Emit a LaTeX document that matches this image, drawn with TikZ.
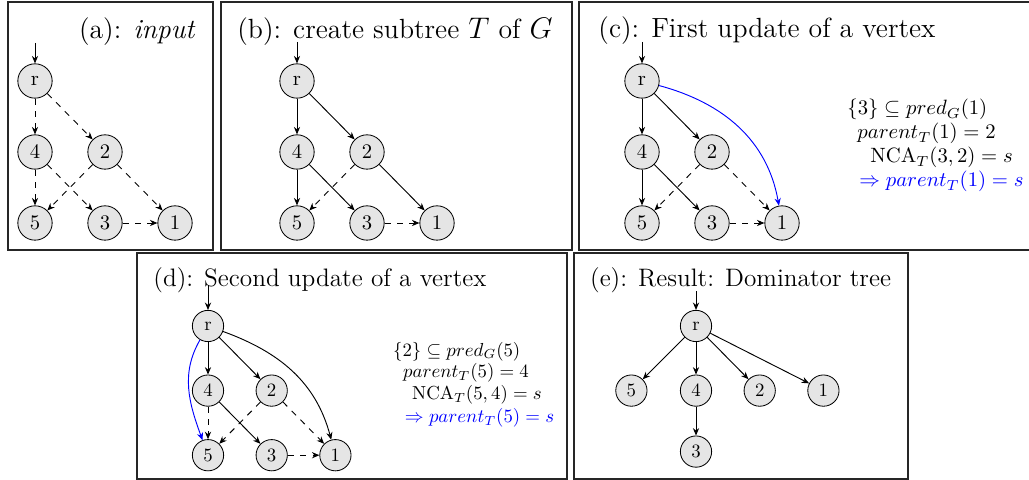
\documentclass[tikz,border=0pt]{standalone}
\usepackage{amsmath}
\usetikzlibrary{arrows.meta}

\begin{document}
\begin{tikzpicture}[
  x=0.483pt,y=0.483pt,
  >={Stealth[length=3.6pt,width=3pt]},
  vertex/.style={circle,draw=black,fill=black!10,minimum size=16.6pt,inner sep=0pt},
  tree/.style={->,draw=black,line width=0.45pt},
  nontree/.style={->,draw=black,dashed,line width=0.45pt},
  update/.style={->,draw=blue,line width=0.45pt},
  panel/.style={draw=black!85,line width=0.55pt},
  title/.style={font=\fontsize{13.4}{16}\selectfont,inner sep=0pt},
  mathlab/.style={anchor=base west,inner sep=0pt}
]
\useasboundingbox (0,0) rectangle (1029,480);

% ---------------- panel frames ----------------
\draw[panel] (8,478) rectangle (213,230);
\draw[panel] (221,478) rectangle (572,230);
\draw[panel] (579,478) rectangle (1040,230);
\draw[panel] (137,227) rectangle (567,1);
\draw[panel] (574,227) rectangle (908,1);

% ---------------- (a) input ----------------
\begin{scope}[shift={(35,399)}]
\node[title,anchor=east] (a-title) at (161,49) {(a): \textit{input}};
\node[vertex] (a-r) at (0,0) {r};
\node[vertex] (a-4) at (0,-71) {4};
\node[vertex] (a-2) at (70,-71) {2};
\node[vertex] (a-5) at (0,-142) {5};
\node[vertex] (a-3) at (70,-142) {3};
\node[vertex] (a-1) at (140,-142) {1};
\coordinate (a-in) at (0,38);
\draw[tree] (a-in) -- (a-r);
\draw[nontree] (a-r) -- (a-4);
\draw[nontree] (a-r) -- (a-2);
\draw[nontree] (a-4) -- (a-5);
\draw[nontree] (a-4) -- (a-3);
\draw[nontree] (a-2) -- (a-5);
\draw[nontree] (a-2) -- (a-1);
\draw[nontree] (a-3) -- (a-1);
\end{scope}

% ---------------- (b) subtree T ----------------
\begin{scope}[shift={(297,399)}]
\node[title] (b-title) at (98,49) {(b): create subtree $T$ of $G$};
\node[vertex] (b-r) at (0,0) {r};
\node[vertex] (b-4) at (0,-71) {4};
\node[vertex] (b-2) at (70,-71) {2};
\node[vertex] (b-5) at (0,-142) {5};
\node[vertex] (b-3) at (70,-142) {3};
\node[vertex] (b-1) at (140,-142) {1};
\coordinate (b-in) at (0,39);
\draw[tree] (b-in) -- (b-r);
\draw[tree] (b-r) -- (b-4);
\draw[tree] (b-r) -- (b-2);
\draw[tree] (b-4) -- (b-5);
\draw[tree] (b-4) -- (b-3);
\draw[tree] (b-2) -- (b-1);
\draw[nontree] (b-2) -- (b-5);
\draw[nontree] (b-3) -- (b-1);
\end{scope}

% ---------------- (c) first update ----------------
\begin{scope}[shift={(642,399)}]
\node[title] (c-title) at (125,50) {(c): First update of a vertex};
\node[vertex] (c-r) at (0,0) {r};
\node[vertex] (c-4) at (0,-71) {4};
\node[vertex] (c-2) at (70,-71) {2};
\node[vertex] (c-5) at (0,-142) {5};
\node[vertex] (c-3) at (70,-142) {3};
\node[vertex] (c-1) at (140,-142) {1};
\coordinate (c-in) at (0,39);
\draw[tree] (c-in) -- (c-r);
\draw[tree] (c-r) -- (c-4);
\draw[tree] (c-r) -- (c-2);
\draw[tree] (c-4) -- (c-5);
\draw[tree] (c-4) -- (c-3);
\draw[nontree] (c-2) -- (c-5);
\draw[nontree] (c-2) -- (c-1);
\draw[nontree] (c-3) -- (c-1);
\draw[update] (c-r) to[out=-15,in=100] (c-1);

\node[mathlab] (c-l1) at (205,-34) {$\{3\} \subseteq pred_G(1)$};
\node[mathlab] (c-l2) at (215,-58) {$parent_T(1) = 2$};
\node[mathlab] (c-l3) at (228,-82) {$\mathrm{NCA}_T(3,2) = s$};
\node[mathlab,text=blue] (c-l4) at (217,-106) {$\Rightarrow parent_T(1) = s$};
\end{scope}

% ---------------- (d) second update ----------------
\begin{scope}[shift={(208,154)},scale=0.91,transform shape]
\node[title] (d-title) at (123,50) {(d): Second update of a vertex};
\node[vertex] (d-r) at (0,0) {r};
\node[vertex] (d-4) at (0,-71) {4};
\node[vertex] (d-2) at (70,-71) {2};
\node[vertex] (d-5) at (0,-142) {5};
\node[vertex] (d-3) at (70,-142) {3};
\node[vertex] (d-1) at (140,-142) {1};
\coordinate (d-in) at (0,45);
\draw[tree] (d-in) -- (d-r);
\draw[tree] (d-r) -- (d-4);
\draw[tree] (d-r) -- (d-2);
\draw[tree] (d-4) -- (d-3);
\draw[tree] (d-r) to[out=-20,in=105] (d-1);
\draw[nontree] (d-4) -- (d-5);
\draw[nontree] (d-2) -- (d-5);
\draw[nontree] (d-2) -- (d-1);
\draw[nontree] (d-3) -- (d-1);
\draw[update] (d-r) to[out=240,in=110] (d-5);

\node[mathlab] (d-l1) at (203,-33) {$\{2\} \subseteq pred_G(5)$};
\node[mathlab] (d-l2) at (214,-57) {$parent_T(5) = 4$};
\node[mathlab] (d-l3) at (224,-81) {$\mathrm{NCA}_T(5,4) = s$};
\node[mathlab,text=blue] (d-l4) at (216,-106) {$\Rightarrow parent_T(5) = s$};
\end{scope}

% ---------------- (e) dominator tree ----------------
\begin{scope}[shift={(696,154)},scale=0.91,transform shape]
\node[title] (e-title) at (49,50) {(e): Result: Dominator tree};
\node[vertex] (e-r) at (0,0) {r};
\node[vertex] (e-5) at (-71,-71) {5};
\node[vertex] (e-4) at (0,-71) {4};
\node[vertex] (e-2) at (70,-71) {2};
\node[vertex] (e-1) at (140,-71) {1};
\node[vertex] (e-3) at (0,-138) {3};
\coordinate (e-in) at (0,38);
\draw[tree] (e-in) -- (e-r);
\draw[tree] (e-r) -- (e-5);
\draw[tree] (e-r) -- (e-4);
\draw[tree] (e-r) -- (e-2);
\draw[tree] (e-r) -- (e-1);
\draw[tree] (e-4) -- (e-3);
\end{scope}

\end{tikzpicture}
\end{document}
